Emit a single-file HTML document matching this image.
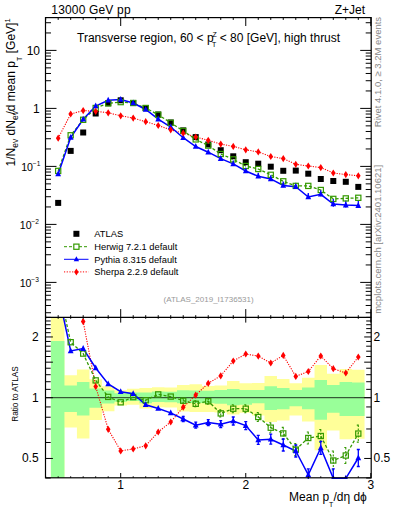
<!DOCTYPE html><html><head><meta charset="utf-8"><style>html,body{margin:0;padding:0;background:#fff;width:393px;height:512px;overflow:hidden}svg{display:block}text{font-family:"Liberation Sans",sans-serif}</style></head><body>
<svg width="393" height="512" viewBox="0 0 393 512">
<defs><clipPath id="cu"><rect x="45.50" y="17.60" width="325.70" height="299.80"/></clipPath><clipPath id="cl"><rect x="45.50" y="317.40" width="325.70" height="160.40"/></clipPath><clipPath id="cb"><rect x="45.50" y="317.40" width="325.70" height="161.70"/></clipPath></defs>
<g clip-path="url(#cl)">
<path d="M50.90 300.00L64.43 300.00L64.43 375.30L76.93 375.30L76.93 369.50L89.44 369.50L89.44 379.30L101.94 379.30L101.94 386.30L114.45 386.30L114.45 390.30L126.95 390.30L126.95 388.70L139.46 388.70L139.46 388.00L151.96 388.00L151.96 387.20L164.47 387.20L164.47 387.50L176.97 387.50L176.97 384.90L189.48 384.90L189.48 384.30L201.98 384.30L201.98 386.00L214.49 386.00L214.49 385.40L226.99 385.40L226.99 380.90L239.50 380.90L239.50 383.30L252.00 383.30L252.00 383.00L264.51 383.00L264.51 376.00L277.01 376.00L277.01 378.90L289.52 378.90L289.52 383.30L302.02 383.30L302.02 377.80L314.53 377.80L314.53 365.00L327.03 365.00L327.03 373.80L339.54 373.80L339.54 369.00L352.04 369.00L352.04 369.70L364.55 369.70L364.55 438.70L352.04 438.70L352.04 439.30L339.54 439.30L339.54 430.60L327.03 430.60L327.03 450.30L314.53 450.30L314.53 421.50L302.02 421.50L302.02 415.40L289.52 415.40L289.52 420.50L277.01 420.50L277.01 422.00L264.51 422.00L264.51 415.40L252.00 415.40L252.00 412.80L239.50 412.80L239.50 414.40L226.99 414.40L226.99 412.40L214.49 412.40L214.49 412.00L201.98 412.00L201.98 412.00L189.48 412.00L189.48 411.60L176.97 411.60L176.97 407.40L164.47 407.40L164.47 407.20L151.96 407.20L151.96 408.60L139.46 408.60L139.46 404.80L126.95 404.80L126.95 405.50L114.45 405.50L114.45 411.30L101.94 411.30L101.94 420.00L89.44 420.00L89.44 438.60L76.93 438.60L76.93 427.50L64.43 427.50L64.43 490.00L50.90 490.00Z" fill="#ffff99"/>
<path d="M50.90 341.00L64.43 341.00L64.43 385.40L76.93 385.40L76.93 382.00L89.44 382.00L89.44 388.50L101.94 388.50L101.94 390.50L114.45 390.50L114.45 393.30L126.95 393.30L126.95 392.60L139.46 392.60L139.46 392.60L151.96 392.60L151.96 391.60L164.47 391.60L164.47 391.80L176.97 391.80L176.97 390.30L189.48 390.30L189.48 390.50L201.98 390.50L201.98 390.70L214.49 390.70L214.49 390.00L226.99 390.00L226.99 389.00L239.50 389.00L239.50 390.00L252.00 390.00L252.00 390.00L264.51 390.00L264.51 386.30L277.01 386.30L277.01 388.00L289.52 388.00L289.52 390.00L302.02 390.00L302.02 387.50L314.53 387.50L314.53 379.90L327.03 379.90L327.03 385.00L339.54 385.00L339.54 382.00L352.04 382.00L352.04 382.50L364.55 382.50L364.55 416.00L352.04 416.00L352.04 416.00L339.54 416.00L339.54 412.70L327.03 412.70L327.03 419.70L314.53 419.70L314.53 409.30L302.02 409.30L302.02 406.30L289.52 406.30L289.52 409.30L277.01 409.30L277.01 410.00L264.51 410.00L264.51 403.20L252.00 403.20L252.00 404.70L239.50 404.70L239.50 405.30L226.99 405.30L226.99 403.80L214.49 403.80L214.49 403.20L201.98 403.20L201.98 403.00L189.48 403.00L189.48 403.20L176.97 403.20L176.97 402.20L164.47 402.20L164.47 401.90L151.96 401.90L151.96 403.20L139.46 403.20L139.46 401.00L126.95 401.00L126.95 401.70L114.45 401.70L114.45 403.50L101.94 403.50L101.94 407.80L89.44 407.80L89.44 415.50L76.93 415.50L76.93 411.90L64.43 411.90L64.43 490.00L50.90 490.00Z" fill="#99ff99"/>
</g>
<line x1="45.50" y1="397.7" x2="371.20" y2="397.7" stroke="#000" stroke-opacity="0.8" stroke-width="1"/>
<g clip-path="url(#cu)">
<polyline points="58.18,138.20 70.68,114.00 83.19,110.60 95.69,111.30 108.20,112.80 120.70,115.80 133.21,118.10 145.71,121.70 158.22,125.50 170.72,129.80 183.22,133.20 195.73,137.00 208.24,140.30 220.74,144.10 233.25,146.40 245.75,149.80 258.25,151.90 270.76,156.50 283.26,158.60 295.77,164.30 308.27,166.00 320.78,167.60 333.29,173.00 345.79,174.60 358.30,175.80" fill="none" stroke="#ff0000" stroke-width="1.1" stroke-dasharray="1.2,1.3"/>
<polyline points="58.18,170.90 70.68,135.30 83.19,119.80 95.69,108.00 108.20,103.30 120.70,102.10 133.21,103.00 145.71,108.00 158.22,114.80 170.72,122.80 183.22,130.90 195.73,139.40 208.24,145.60 220.74,154.00 233.25,159.40 245.75,166.00 258.25,169.00 270.76,174.80 283.26,181.30 295.77,185.90 308.27,185.90 320.78,190.00 333.29,198.90 345.79,198.40 358.30,197.80" fill="none" stroke="#339900" stroke-width="1.3" stroke-dasharray="3,2"/>
<polyline points="58.18,174.00 70.68,137.50 83.19,119.30 95.69,106.00 108.20,100.30 120.70,99.50 133.21,103.00 145.71,109.50 158.22,119.10 170.72,127.00 183.22,137.70 195.73,146.50 208.24,152.20 220.74,158.60 233.25,163.90 245.75,171.00 258.25,176.30 270.76,178.90 283.26,185.50 295.77,186.70 308.27,197.00 320.78,194.30 333.29,204.00 345.79,205.10 358.30,205.60" fill="none" stroke="#0000ff" stroke-width="1.5"/>
<path d="" stroke="#339900" stroke-width="1.1" fill="none"/>
<path d="M233.25 160.54V165.06M245.75 167.64V172.16M258.25 172.80V177.61M270.76 175.25V180.35M283.26 181.56V187.24M295.77 182.76V188.44M308.27 193.06V198.74M320.78 190.22V196.19M333.29 199.05V206.75M345.79 200.58V207.42M358.30 200.94V208.06" stroke="#0000ff" stroke-width="1.3" fill="none"/>
<rect x="55.18" y="199.90" width="6" height="6" fill="#000"/><rect x="67.68" y="147.90" width="6" height="6" fill="#000"/><rect x="80.19" y="129.50" width="6" height="6" fill="#000"/><rect x="92.69" y="110.50" width="6" height="6" fill="#000"/><rect x="105.20" y="100.30" width="6" height="6" fill="#000"/><rect x="117.70" y="97.30" width="6" height="6" fill="#000"/><rect x="130.21" y="100.00" width="6" height="6" fill="#000"/><rect x="142.71" y="105.00" width="6" height="6" fill="#000"/><rect x="155.22" y="111.50" width="6" height="6" fill="#000"/><rect x="167.72" y="119.50" width="6" height="6" fill="#000"/><rect x="180.22" y="127.40" width="6" height="6" fill="#000"/><rect x="192.73" y="134.10" width="6" height="6" fill="#000"/><rect x="205.24" y="141.50" width="6" height="6" fill="#000"/><rect x="217.74" y="147.20" width="6" height="6" fill="#000"/><rect x="230.25" y="153.30" width="6" height="6" fill="#000"/><rect x="242.75" y="159.20" width="6" height="6" fill="#000"/><rect x="255.25" y="160.70" width="6" height="6" fill="#000"/><rect x="267.76" y="163.70" width="6" height="6" fill="#000"/><rect x="280.26" y="167.80" width="6" height="6" fill="#000"/><rect x="292.77" y="167.60" width="6" height="6" fill="#000"/><rect x="305.27" y="170.70" width="6" height="6" fill="#000"/><rect x="317.78" y="176.00" width="6" height="6" fill="#000"/><rect x="330.29" y="178.00" width="6" height="6" fill="#000"/><rect x="342.79" y="178.80" width="6" height="6" fill="#000"/><rect x="355.30" y="183.90" width="6" height="6" fill="#000"/>
<rect x="55.58" y="168.30" width="5.2" height="5.2" fill="none" stroke="#339900" stroke-width="1.2"/><rect x="68.08" y="132.70" width="5.2" height="5.2" fill="none" stroke="#339900" stroke-width="1.2"/><rect x="80.59" y="117.20" width="5.2" height="5.2" fill="none" stroke="#339900" stroke-width="1.2"/><rect x="93.09" y="105.40" width="5.2" height="5.2" fill="none" stroke="#339900" stroke-width="1.2"/><rect x="105.60" y="100.70" width="5.2" height="5.2" fill="none" stroke="#339900" stroke-width="1.2"/><rect x="118.10" y="99.50" width="5.2" height="5.2" fill="none" stroke="#339900" stroke-width="1.2"/><rect x="130.61" y="100.40" width="5.2" height="5.2" fill="none" stroke="#339900" stroke-width="1.2"/><rect x="143.11" y="105.40" width="5.2" height="5.2" fill="none" stroke="#339900" stroke-width="1.2"/><rect x="155.62" y="112.20" width="5.2" height="5.2" fill="none" stroke="#339900" stroke-width="1.2"/><rect x="168.12" y="120.20" width="5.2" height="5.2" fill="none" stroke="#339900" stroke-width="1.2"/><rect x="180.62" y="128.30" width="5.2" height="5.2" fill="none" stroke="#339900" stroke-width="1.2"/><rect x="193.13" y="136.80" width="5.2" height="5.2" fill="none" stroke="#339900" stroke-width="1.2"/><rect x="205.64" y="143.00" width="5.2" height="5.2" fill="none" stroke="#339900" stroke-width="1.2"/><rect x="218.14" y="151.40" width="5.2" height="5.2" fill="none" stroke="#339900" stroke-width="1.2"/><rect x="230.65" y="156.80" width="5.2" height="5.2" fill="none" stroke="#339900" stroke-width="1.2"/><rect x="243.15" y="163.40" width="5.2" height="5.2" fill="none" stroke="#339900" stroke-width="1.2"/><rect x="255.66" y="166.40" width="5.2" height="5.2" fill="none" stroke="#339900" stroke-width="1.2"/><rect x="268.16" y="172.20" width="5.2" height="5.2" fill="none" stroke="#339900" stroke-width="1.2"/><rect x="280.66" y="178.70" width="5.2" height="5.2" fill="none" stroke="#339900" stroke-width="1.2"/><rect x="293.17" y="183.30" width="5.2" height="5.2" fill="none" stroke="#339900" stroke-width="1.2"/><rect x="305.67" y="183.30" width="5.2" height="5.2" fill="none" stroke="#339900" stroke-width="1.2"/><rect x="318.18" y="187.40" width="5.2" height="5.2" fill="none" stroke="#339900" stroke-width="1.2"/><rect x="330.69" y="196.30" width="5.2" height="5.2" fill="none" stroke="#339900" stroke-width="1.2"/><rect x="343.19" y="195.80" width="5.2" height="5.2" fill="none" stroke="#339900" stroke-width="1.2"/><rect x="355.69" y="195.20" width="5.2" height="5.2" fill="none" stroke="#339900" stroke-width="1.2"/>
<path d="M58.18 170.50L61.08 176.30L55.28 176.30Z" fill="#0000ff"/><path d="M70.68 134.00L73.58 139.80L67.78 139.80Z" fill="#0000ff"/><path d="M83.19 115.80L86.09 121.60L80.28 121.60Z" fill="#0000ff"/><path d="M95.69 102.50L98.59 108.30L92.79 108.30Z" fill="#0000ff"/><path d="M108.20 96.80L111.10 102.60L105.30 102.60Z" fill="#0000ff"/><path d="M120.70 96.00L123.60 101.80L117.80 101.80Z" fill="#0000ff"/><path d="M133.21 99.50L136.11 105.30L130.31 105.30Z" fill="#0000ff"/><path d="M145.71 106.00L148.61 111.80L142.81 111.80Z" fill="#0000ff"/><path d="M158.22 115.60L161.12 121.40L155.31 121.40Z" fill="#0000ff"/><path d="M170.72 123.50L173.62 129.30L167.82 129.30Z" fill="#0000ff"/><path d="M183.22 134.20L186.12 140.00L180.32 140.00Z" fill="#0000ff"/><path d="M195.73 143.00L198.63 148.80L192.83 148.80Z" fill="#0000ff"/><path d="M208.24 148.70L211.14 154.50L205.34 154.50Z" fill="#0000ff"/><path d="M220.74 155.10L223.64 160.90L217.84 160.90Z" fill="#0000ff"/><path d="M233.25 160.40L236.15 166.20L230.34 166.20Z" fill="#0000ff"/><path d="M245.75 167.50L248.65 173.30L242.85 173.30Z" fill="#0000ff"/><path d="M258.25 172.80L261.15 178.60L255.35 178.60Z" fill="#0000ff"/><path d="M270.76 175.40L273.66 181.20L267.86 181.20Z" fill="#0000ff"/><path d="M283.26 182.00L286.16 187.80L280.37 187.80Z" fill="#0000ff"/><path d="M295.77 183.20L298.67 189.00L292.87 189.00Z" fill="#0000ff"/><path d="M308.27 193.50L311.17 199.30L305.38 199.30Z" fill="#0000ff"/><path d="M320.78 190.80L323.68 196.60L317.88 196.60Z" fill="#0000ff"/><path d="M333.29 200.50L336.19 206.30L330.39 206.30Z" fill="#0000ff"/><path d="M345.79 201.60L348.69 207.40L342.89 207.40Z" fill="#0000ff"/><path d="M358.30 202.10L361.19 207.90L355.40 207.90Z" fill="#0000ff"/>
<path d="M58.18 134.60L60.48 138.20L58.18 141.80L55.88 138.20Z" fill="#ff0000"/><path d="M70.68 110.40L72.98 114.00L70.68 117.60L68.38 114.00Z" fill="#ff0000"/><path d="M83.19 107.00L85.48 110.60L83.19 114.20L80.89 110.60Z" fill="#ff0000"/><path d="M95.69 107.70L97.99 111.30L95.69 114.90L93.39 111.30Z" fill="#ff0000"/><path d="M108.20 109.20L110.50 112.80L108.20 116.40L105.90 112.80Z" fill="#ff0000"/><path d="M120.70 112.20L123.00 115.80L120.70 119.40L118.40 115.80Z" fill="#ff0000"/><path d="M133.21 114.50L135.51 118.10L133.21 121.70L130.91 118.10Z" fill="#ff0000"/><path d="M145.71 118.10L148.01 121.70L145.71 125.30L143.41 121.70Z" fill="#ff0000"/><path d="M158.22 121.90L160.52 125.50L158.22 129.10L155.91 125.50Z" fill="#ff0000"/><path d="M170.72 126.20L173.02 129.80L170.72 133.40L168.42 129.80Z" fill="#ff0000"/><path d="M183.22 129.60L185.53 133.20L183.22 136.80L180.92 133.20Z" fill="#ff0000"/><path d="M195.73 133.40L198.03 137.00L195.73 140.60L193.43 137.00Z" fill="#ff0000"/><path d="M208.24 136.70L210.54 140.30L208.24 143.90L205.94 140.30Z" fill="#ff0000"/><path d="M220.74 140.50L223.04 144.10L220.74 147.70L218.44 144.10Z" fill="#ff0000"/><path d="M233.25 142.80L235.55 146.40L233.25 150.00L230.94 146.40Z" fill="#ff0000"/><path d="M245.75 146.20L248.05 149.80L245.75 153.40L243.45 149.80Z" fill="#ff0000"/><path d="M258.25 148.30L260.56 151.90L258.25 155.50L255.95 151.90Z" fill="#ff0000"/><path d="M270.76 152.90L273.06 156.50L270.76 160.10L268.46 156.50Z" fill="#ff0000"/><path d="M283.26 155.00L285.56 158.60L283.26 162.20L280.96 158.60Z" fill="#ff0000"/><path d="M295.77 160.70L298.07 164.30L295.77 167.90L293.47 164.30Z" fill="#ff0000"/><path d="M308.27 162.40L310.57 166.00L308.27 169.60L305.97 166.00Z" fill="#ff0000"/><path d="M320.78 164.00L323.08 167.60L320.78 171.20L318.48 167.60Z" fill="#ff0000"/><path d="M333.29 169.40L335.59 173.00L333.29 176.60L330.99 173.00Z" fill="#ff0000"/><path d="M345.79 171.00L348.09 174.60L345.79 178.20L343.49 174.60Z" fill="#ff0000"/><path d="M358.30 172.20L360.60 175.80L358.30 179.40L356.00 175.80Z" fill="#ff0000"/>
</g>
<g clip-path="url(#cb)">
<polyline points="58.18,240.00 70.68,280.00 83.19,321.60 95.69,386.50 108.20,429.30 120.70,450.90 133.21,448.90 145.71,445.80 158.22,432.00 170.72,422.00 183.22,407.20 195.73,395.10 208.24,383.30 220.74,375.80 233.25,361.00 245.75,354.00 258.25,356.10 270.76,363.00 283.26,355.40 295.77,376.40 308.27,371.50 320.78,356.00 333.29,368.70 345.79,373.00 358.30,357.00" fill="none" stroke="#ff0000" stroke-width="1.1" stroke-dasharray="1.2,1.3"/>
<polyline points="58.18,285.00 70.68,342.20 83.19,353.60 95.69,380.40 108.20,396.90 120.70,402.30 133.21,397.10 145.71,400.20 158.22,394.40 170.72,396.60 183.22,400.70 195.73,403.80 208.24,401.20 220.74,413.40 233.25,408.70 245.75,408.70 258.25,417.00 270.76,427.70 283.26,433.40 295.77,449.60 308.27,438.00 320.78,436.00 333.29,460.50 345.79,455.50 358.30,433.60" fill="none" stroke="#339900" stroke-width="1.3" stroke-dasharray="3,2"/>
<polyline points="58.18,293.00 70.68,350.90 83.19,348.60 95.69,368.00 108.20,384.00 120.70,391.70 133.21,393.80 145.71,404.80 158.22,408.50 170.72,412.90 183.22,419.00 195.73,425.20 208.24,422.60 220.74,424.20 233.25,421.00 245.75,425.60 258.25,439.90 270.76,439.20 283.26,445.00 295.77,451.00 308.27,474.90 320.78,447.90 333.29,478.30 345.79,478.30 358.30,458.00" fill="none" stroke="#0000ff" stroke-width="1.5"/>
<path d="M183.22 398.20V403.20M181.72 398.20h3M181.72 403.20h3M195.73 400.80V406.80M194.23 400.80h3M194.23 406.80h3M208.24 398.20V404.20M206.74 398.20h3M206.74 404.20h3M220.74 409.90V416.90M219.24 409.90h3M219.24 416.90h3M233.25 404.70V412.70M231.75 404.70h3M231.75 412.70h3M245.75 404.70V412.70M244.25 404.70h3M244.25 412.70h3M258.25 412.50V421.50M256.75 412.50h3M256.75 421.50h3M270.76 422.70V432.70M269.26 422.70h3M269.26 432.70h3M283.26 427.40V439.40M281.76 427.40h3M281.76 439.40h3M295.77 443.60V455.60M294.27 443.60h3M294.27 455.60h3M308.27 432.00V444.00M306.77 432.00h3M306.77 444.00h3M320.78 429.50V442.50M319.28 429.50h3M319.28 442.50h3M333.29 451.00V470.00M331.79 451.00h3M331.79 470.00h3M345.79 447.50V463.50M344.29 447.50h3M344.29 463.50h3M358.30 425.10V442.10M356.80 425.10h3M356.80 442.10h3" stroke="#339900" stroke-width="1.1" fill="none" stroke-dasharray="2,1.5"/>
<path d="M183.22 416.50V421.50M181.72 416.50h3M181.72 421.50h3M195.73 422.20V428.20M194.23 422.20h3M194.23 428.20h3M208.24 419.60V425.60M206.74 419.60h3M206.74 425.60h3M220.74 420.70V427.70M219.24 420.70h3M219.24 427.70h3M233.25 417.00V425.00M231.75 417.00h3M231.75 425.00h3M245.75 421.60V429.60M244.25 421.60h3M244.25 429.60h3M258.25 435.40V444.40M256.75 435.40h3M256.75 444.40h3M270.76 434.20V444.20M269.26 434.20h3M269.26 444.20h3M283.26 439.00V451.00M281.76 439.00h3M281.76 451.00h3M295.77 445.00V457.00M294.27 445.00h3M294.27 457.00h3M308.27 468.90V480.90M306.77 468.90h3M306.77 480.90h3M320.78 441.40V454.40M319.28 441.40h3M319.28 454.40h3M333.29 468.80V487.80M331.79 468.80h3M331.79 487.80h3M358.30 449.50V466.50M356.80 449.50h3M356.80 466.50h3" stroke="#0000ff" stroke-width="1.3" fill="none"/>
<rect x="55.58" y="282.40" width="5.2" height="5.2" fill="none" stroke="#339900" stroke-width="1.2"/><rect x="68.08" y="339.60" width="5.2" height="5.2" fill="none" stroke="#339900" stroke-width="1.2"/><rect x="80.59" y="351.00" width="5.2" height="5.2" fill="none" stroke="#339900" stroke-width="1.2"/><rect x="93.09" y="377.80" width="5.2" height="5.2" fill="none" stroke="#339900" stroke-width="1.2"/><rect x="105.60" y="394.30" width="5.2" height="5.2" fill="none" stroke="#339900" stroke-width="1.2"/><rect x="118.10" y="399.70" width="5.2" height="5.2" fill="none" stroke="#339900" stroke-width="1.2"/><rect x="130.61" y="394.50" width="5.2" height="5.2" fill="none" stroke="#339900" stroke-width="1.2"/><rect x="143.11" y="397.60" width="5.2" height="5.2" fill="none" stroke="#339900" stroke-width="1.2"/><rect x="155.62" y="391.80" width="5.2" height="5.2" fill="none" stroke="#339900" stroke-width="1.2"/><rect x="168.12" y="394.00" width="5.2" height="5.2" fill="none" stroke="#339900" stroke-width="1.2"/><rect x="180.62" y="398.10" width="5.2" height="5.2" fill="none" stroke="#339900" stroke-width="1.2"/><rect x="193.13" y="401.20" width="5.2" height="5.2" fill="none" stroke="#339900" stroke-width="1.2"/><rect x="205.64" y="398.60" width="5.2" height="5.2" fill="none" stroke="#339900" stroke-width="1.2"/><rect x="218.14" y="410.80" width="5.2" height="5.2" fill="none" stroke="#339900" stroke-width="1.2"/><rect x="230.65" y="406.10" width="5.2" height="5.2" fill="none" stroke="#339900" stroke-width="1.2"/><rect x="243.15" y="406.10" width="5.2" height="5.2" fill="none" stroke="#339900" stroke-width="1.2"/><rect x="255.66" y="414.40" width="5.2" height="5.2" fill="none" stroke="#339900" stroke-width="1.2"/><rect x="268.16" y="425.10" width="5.2" height="5.2" fill="none" stroke="#339900" stroke-width="1.2"/><rect x="280.66" y="430.80" width="5.2" height="5.2" fill="none" stroke="#339900" stroke-width="1.2"/><rect x="293.17" y="447.00" width="5.2" height="5.2" fill="none" stroke="#339900" stroke-width="1.2"/><rect x="305.67" y="435.40" width="5.2" height="5.2" fill="none" stroke="#339900" stroke-width="1.2"/><rect x="318.18" y="433.40" width="5.2" height="5.2" fill="none" stroke="#339900" stroke-width="1.2"/><rect x="330.69" y="457.90" width="5.2" height="5.2" fill="none" stroke="#339900" stroke-width="1.2"/><rect x="343.19" y="452.90" width="5.2" height="5.2" fill="none" stroke="#339900" stroke-width="1.2"/><rect x="355.69" y="431.00" width="5.2" height="5.2" fill="none" stroke="#339900" stroke-width="1.2"/>
<path d="M58.18 289.50L61.08 295.30L55.28 295.30Z" fill="#0000ff"/><path d="M70.68 347.40L73.58 353.20L67.78 353.20Z" fill="#0000ff"/><path d="M83.19 345.10L86.09 350.90L80.28 350.90Z" fill="#0000ff"/><path d="M95.69 364.50L98.59 370.30L92.79 370.30Z" fill="#0000ff"/><path d="M108.20 380.50L111.10 386.30L105.30 386.30Z" fill="#0000ff"/><path d="M120.70 388.20L123.60 394.00L117.80 394.00Z" fill="#0000ff"/><path d="M133.21 390.30L136.11 396.10L130.31 396.10Z" fill="#0000ff"/><path d="M145.71 401.30L148.61 407.10L142.81 407.10Z" fill="#0000ff"/><path d="M158.22 405.00L161.12 410.80L155.31 410.80Z" fill="#0000ff"/><path d="M170.72 409.40L173.62 415.20L167.82 415.20Z" fill="#0000ff"/><path d="M183.22 415.50L186.12 421.30L180.32 421.30Z" fill="#0000ff"/><path d="M195.73 421.70L198.63 427.50L192.83 427.50Z" fill="#0000ff"/><path d="M208.24 419.10L211.14 424.90L205.34 424.90Z" fill="#0000ff"/><path d="M220.74 420.70L223.64 426.50L217.84 426.50Z" fill="#0000ff"/><path d="M233.25 417.50L236.15 423.30L230.34 423.30Z" fill="#0000ff"/><path d="M245.75 422.10L248.65 427.90L242.85 427.90Z" fill="#0000ff"/><path d="M258.25 436.40L261.15 442.20L255.35 442.20Z" fill="#0000ff"/><path d="M270.76 435.70L273.66 441.50L267.86 441.50Z" fill="#0000ff"/><path d="M283.26 441.50L286.16 447.30L280.37 447.30Z" fill="#0000ff"/><path d="M295.77 447.50L298.67 453.30L292.87 453.30Z" fill="#0000ff"/><path d="M308.27 471.40L311.17 477.20L305.38 477.20Z" fill="#0000ff"/><path d="M320.78 444.40L323.68 450.20L317.88 450.20Z" fill="#0000ff"/><path d="M333.29 474.80L336.19 480.60L330.39 480.60Z" fill="#0000ff"/><path d="M345.79 474.80L348.69 480.60L342.89 480.60Z" fill="#0000ff"/><path d="M358.30 454.50L361.19 460.30L355.40 460.30Z" fill="#0000ff"/>
<path d="M58.18 236.40L60.48 240.00L58.18 243.60L55.88 240.00Z" fill="#ff0000"/><path d="M70.68 276.40L72.98 280.00L70.68 283.60L68.38 280.00Z" fill="#ff0000"/><path d="M83.19 318.00L85.48 321.60L83.19 325.20L80.89 321.60Z" fill="#ff0000"/><path d="M95.69 382.90L97.99 386.50L95.69 390.10L93.39 386.50Z" fill="#ff0000"/><path d="M108.20 425.70L110.50 429.30L108.20 432.90L105.90 429.30Z" fill="#ff0000"/><path d="M120.70 447.30L123.00 450.90L120.70 454.50L118.40 450.90Z" fill="#ff0000"/><path d="M133.21 445.30L135.51 448.90L133.21 452.50L130.91 448.90Z" fill="#ff0000"/><path d="M145.71 442.20L148.01 445.80L145.71 449.40L143.41 445.80Z" fill="#ff0000"/><path d="M158.22 428.40L160.52 432.00L158.22 435.60L155.91 432.00Z" fill="#ff0000"/><path d="M170.72 418.40L173.02 422.00L170.72 425.60L168.42 422.00Z" fill="#ff0000"/><path d="M183.22 403.60L185.53 407.20L183.22 410.80L180.92 407.20Z" fill="#ff0000"/><path d="M195.73 391.50L198.03 395.10L195.73 398.70L193.43 395.10Z" fill="#ff0000"/><path d="M208.24 379.70L210.54 383.30L208.24 386.90L205.94 383.30Z" fill="#ff0000"/><path d="M220.74 372.20L223.04 375.80L220.74 379.40L218.44 375.80Z" fill="#ff0000"/><path d="M233.25 357.40L235.55 361.00L233.25 364.60L230.94 361.00Z" fill="#ff0000"/><path d="M245.75 350.40L248.05 354.00L245.75 357.60L243.45 354.00Z" fill="#ff0000"/><path d="M258.25 352.50L260.56 356.10L258.25 359.70L255.95 356.10Z" fill="#ff0000"/><path d="M270.76 359.40L273.06 363.00L270.76 366.60L268.46 363.00Z" fill="#ff0000"/><path d="M283.26 351.80L285.56 355.40L283.26 359.00L280.96 355.40Z" fill="#ff0000"/><path d="M295.77 372.80L298.07 376.40L295.77 380.00L293.47 376.40Z" fill="#ff0000"/><path d="M308.27 367.90L310.57 371.50L308.27 375.10L305.97 371.50Z" fill="#ff0000"/><path d="M320.78 352.40L323.08 356.00L320.78 359.60L318.48 356.00Z" fill="#ff0000"/><path d="M333.29 365.10L335.59 368.70L333.29 372.30L330.99 368.70Z" fill="#ff0000"/><path d="M345.79 369.40L348.09 373.00L345.79 376.60L343.49 373.00Z" fill="#ff0000"/><path d="M358.30 353.40L360.60 357.00L358.30 360.60L356.00 357.00Z" fill="#ff0000"/>
</g>
<rect x="45.50" y="17.60" width="325.70" height="460.20" fill="none" stroke="#000" stroke-width="1.2"/><line x1="45.50" y1="317.40" x2="371.20" y2="317.40" stroke="#000" stroke-width="1.2"/><path d="M45.67 17.60v2.30 M45.67 317.40v-2.20 M45.67 317.40v1.40 M45.67 477.80v-1.50 M58.18 17.60v2.30 M58.18 317.40v-2.20 M58.18 317.40v1.40 M58.18 477.80v-1.50 M70.68 17.60v2.30 M70.68 317.40v-2.20 M70.68 317.40v1.40 M70.68 477.80v-1.50 M83.19 17.60v2.30 M83.19 317.40v-2.20 M83.19 317.40v1.40 M83.19 477.80v-1.50 M95.69 17.60v2.30 M95.69 317.40v-2.20 M95.69 317.40v1.40 M95.69 477.80v-1.50 M108.20 17.60v2.30 M108.20 317.40v-2.20 M108.20 317.40v1.40 M108.20 477.80v-1.50 M120.70 17.60v8.40 M120.70 317.40v-8.30 M120.70 317.40v5.20 M120.70 477.80v-4.80 M133.21 17.60v2.30 M133.21 317.40v-2.20 M133.21 317.40v1.40 M133.21 477.80v-1.50 M145.71 17.60v2.30 M145.71 317.40v-2.20 M145.71 317.40v1.40 M145.71 477.80v-1.50 M158.22 17.60v2.30 M158.22 317.40v-2.20 M158.22 317.40v1.40 M158.22 477.80v-1.50 M170.72 17.60v2.30 M170.72 317.40v-2.20 M170.72 317.40v1.40 M170.72 477.80v-1.50 M183.22 17.60v2.30 M183.22 317.40v-2.20 M183.22 317.40v1.40 M183.22 477.80v-1.50 M195.73 17.60v2.30 M195.73 317.40v-2.20 M195.73 317.40v1.40 M195.73 477.80v-1.50 M208.24 17.60v2.30 M208.24 317.40v-2.20 M208.24 317.40v1.40 M208.24 477.80v-1.50 M220.74 17.60v2.30 M220.74 317.40v-2.20 M220.74 317.40v1.40 M220.74 477.80v-1.50 M233.25 17.60v2.30 M233.25 317.40v-2.20 M233.25 317.40v1.40 M233.25 477.80v-1.50 M245.75 17.60v8.40 M245.75 317.40v-8.30 M245.75 317.40v5.20 M245.75 477.80v-4.80 M258.25 17.60v2.30 M258.25 317.40v-2.20 M258.25 317.40v1.40 M258.25 477.80v-1.50 M270.76 17.60v2.30 M270.76 317.40v-2.20 M270.76 317.40v1.40 M270.76 477.80v-1.50 M283.26 17.60v2.30 M283.26 317.40v-2.20 M283.26 317.40v1.40 M283.26 477.80v-1.50 M295.77 17.60v2.30 M295.77 317.40v-2.20 M295.77 317.40v1.40 M295.77 477.80v-1.50 M308.27 17.60v2.30 M308.27 317.40v-2.20 M308.27 317.40v1.40 M308.27 477.80v-1.50 M320.78 17.60v2.30 M320.78 317.40v-2.20 M320.78 317.40v1.40 M320.78 477.80v-1.50 M333.29 17.60v2.30 M333.29 317.40v-2.20 M333.29 317.40v1.40 M333.29 477.80v-1.50 M345.79 17.60v2.30 M345.79 317.40v-2.20 M345.79 317.40v1.40 M345.79 477.80v-1.50 M358.29 17.60v2.30 M358.29 317.40v-2.20 M358.29 317.40v1.40 M358.29 477.80v-1.50 M370.80 17.60v8.40 M370.80 317.40v-8.30 M370.80 317.40v5.20 M370.80 477.80v-4.80 M45.50 312.73h5.50 M371.20 312.73h-5.50 M45.50 305.48h5.50 M371.20 305.48h-5.50 M45.50 299.86h5.50 M371.20 299.86h-5.50 M45.50 295.27h5.50 M371.20 295.27h-5.50 M45.50 291.38h5.50 M371.20 291.38h-5.50 M45.50 288.02h5.50 M371.20 288.02h-5.50 M45.50 285.05h5.50 M371.20 285.05h-5.50 M45.50 282.40h11.00 M371.20 282.40h-11.00 M45.50 264.94h5.50 M371.20 264.94h-5.50 M45.50 254.73h5.50 M371.20 254.73h-5.50 M45.50 247.48h5.50 M371.20 247.48h-5.50 M45.50 241.86h5.50 M371.20 241.86h-5.50 M45.50 237.27h5.50 M371.20 237.27h-5.50 M45.50 233.38h5.50 M371.20 233.38h-5.50 M45.50 230.02h5.50 M371.20 230.02h-5.50 M45.50 227.05h5.50 M371.20 227.05h-5.50 M45.50 224.40h11.00 M371.20 224.40h-11.00 M45.50 206.94h5.50 M371.20 206.94h-5.50 M45.50 196.73h5.50 M371.20 196.73h-5.50 M45.50 189.48h5.50 M371.20 189.48h-5.50 M45.50 183.86h5.50 M371.20 183.86h-5.50 M45.50 179.27h5.50 M371.20 179.27h-5.50 M45.50 175.38h5.50 M371.20 175.38h-5.50 M45.50 172.02h5.50 M371.20 172.02h-5.50 M45.50 169.05h5.50 M371.20 169.05h-5.50 M45.50 166.40h11.00 M371.20 166.40h-11.00 M45.50 148.94h5.50 M371.20 148.94h-5.50 M45.50 138.73h5.50 M371.20 138.73h-5.50 M45.50 131.48h5.50 M371.20 131.48h-5.50 M45.50 125.86h5.50 M371.20 125.86h-5.50 M45.50 121.27h5.50 M371.20 121.27h-5.50 M45.50 117.38h5.50 M371.20 117.38h-5.50 M45.50 114.02h5.50 M371.20 114.02h-5.50 M45.50 111.05h5.50 M371.20 111.05h-5.50 M45.50 108.40h11.00 M371.20 108.40h-11.00 M45.50 90.94h5.50 M371.20 90.94h-5.50 M45.50 80.73h5.50 M371.20 80.73h-5.50 M45.50 73.48h5.50 M371.20 73.48h-5.50 M45.50 67.86h5.50 M371.20 67.86h-5.50 M45.50 63.27h5.50 M371.20 63.27h-5.50 M45.50 59.38h5.50 M371.20 59.38h-5.50 M45.50 56.02h5.50 M371.20 56.02h-5.50 M45.50 53.05h5.50 M371.20 53.05h-5.50 M45.50 50.40h11.00 M371.20 50.40h-11.00 M45.50 32.94h5.50 M371.20 32.94h-5.50 M45.50 22.73h5.50 M371.20 22.73h-5.50 M45.50 478.01h5.20 M371.20 478.01h-5.00 M45.50 458.46h7.40 M371.20 458.46h-7.00 M45.50 442.48h5.20 M371.20 442.48h-5.00 M45.50 428.97h5.20 M371.20 428.97h-5.00 M45.50 417.26h5.20 M371.20 417.26h-5.00 M45.50 406.94h5.20 M371.20 406.94h-5.00 M45.50 397.71h7.40 M371.20 397.71h-7.00 M45.50 389.35h5.20 M371.20 389.35h-5.00 M45.50 381.73h5.20 M371.20 381.73h-5.00 M45.50 374.71h5.20 M371.20 374.71h-5.00 M45.50 368.22h5.20 M371.20 368.22h-5.00 M45.50 362.17h7.40 M371.20 362.17h-7.00 M45.50 356.51h5.20 M371.20 356.51h-5.00 M45.50 351.20h5.20 M371.20 351.20h-5.00 M45.50 346.19h5.20 M371.20 346.19h-5.00 M45.50 341.45h5.20 M371.20 341.45h-5.00 M45.50 336.96h7.40 M371.20 336.96h-7.00 M45.50 332.68h5.20 M371.20 332.68h-5.00 M45.50 328.60h5.20 M371.20 328.60h-5.00 M45.50 324.71h5.20 M371.20 324.71h-5.00 M45.50 320.98h5.20 M371.20 320.98h-5.00 M45.50 317.40h5.20 M371.20 317.40h-5.00" stroke="#000" stroke-width="1" fill="none"/>
<text x="51.3" y="14" font-size="12" letter-spacing="0.17">13000 GeV pp</text>
<text x="365" y="14" font-size="12" text-anchor="end">Z+Jet</text>
<text x="77" y="42" font-size="12">Transverse region, 60 &lt; p<tspan font-size="7" dx="-1.2" dy="-5">Z</tspan><tspan font-size="7" dx="-4.6" dy="9.5">T</tspan><tspan dy="-4.5" dx="0"> &lt; 80 [GeV], high thrust</tspan></text>
<text x="39.6" y="112.6" font-size="12" text-anchor="end">1</text>
<text x="40" y="54.6" font-size="12" text-anchor="end">10</text>
<text x="40.4" y="170.9" font-size="10.6" text-anchor="end">10<tspan font-size="6.6" dy="-5.4" dx="-0.1">&#8722;1</tspan></text>
<text x="39.0" y="228.9" font-size="10.6" text-anchor="end">10<tspan font-size="6.6" dy="-5.4" dx="-0.1">&#8722;2</tspan></text>
<text x="38.9" y="286.9" font-size="10.6" text-anchor="end">10<tspan font-size="6.6" dy="-5.4" dx="-0.1">&#8722;3</tspan></text>
<text x="38.6" y="340.6" font-size="12" text-anchor="end">2</text>
<text x="38.6" y="401.6" font-size="12" text-anchor="end">1</text>
<text x="38.6" y="462.3" font-size="12" text-anchor="end">0.5</text>
<text x="373.6" y="340.6" font-size="12">2</text>
<text x="373.6" y="401.6" font-size="12">1</text>
<text x="373.6" y="462.2" font-size="12">0.5</text>
<text x="120.7" y="489" font-size="12" text-anchor="middle">1</text>
<text x="245.8" y="489" font-size="12" text-anchor="middle">2</text>
<text x="370.8" y="489" font-size="12" text-anchor="middle">3</text>
<text x="366.8" y="501.2" font-size="12" text-anchor="end">Mean p<tspan font-size="7" dy="5.5">T</tspan><tspan dy="-5.5">/dη dϕ</tspan></text>
<text transform="translate(15.1,166.4) rotate(-90)" font-size="12">1/N<tspan font-size="8.5" dy="3">ev</tspan><tspan dy="-3"> dN</tspan><tspan font-size="8.5" dy="3">ev</tspan><tspan dy="-3" dx="-3.5">/d mean p</tspan><tspan font-size="7" dy="6.5" dx="0.3">T</tspan><tspan dy="-6.5"> [GeV]</tspan><tspan font-size="7.5" dy="-5.5">1</tspan></text>
<text transform="translate(18.3,421.7) rotate(-90)" font-size="8.2">Ratio to ATLAS</text>
<text transform="translate(380.8,127.2) rotate(-90)" font-size="9.5" fill="#888">Rivet 4.1.0, ≥ 3.2M events</text>
<text transform="translate(381.2,313.8) rotate(-90)" font-size="9.5" fill="#888">mcplots.cern.ch [arXiv:2401.10621]</text>
<text x="163.5" y="302.3" font-size="8" fill="#999">(ATLAS_2019_I1736531)</text>
<rect x="73.4" y="230.80" width="6" height="6" fill="#000"/>
<line x1="64" y1="246.70" x2="88.5" y2="246.70" stroke="#339900" stroke-width="1" stroke-dasharray="3,2"/>
<rect x="73.8" y="244.10" width="5.2" height="5.2" fill="#fff" stroke="#339900" stroke-width="1.2"/>
<line x1="64" y1="259.30" x2="88.5" y2="259.30" stroke="#0000ff" stroke-width="1"/>
<path d="M76.4 256.30L79.1 261.30L73.7 261.30Z" fill="#0000ff"/>
<line x1="64" y1="271.90" x2="88.5" y2="271.90" stroke="#ff0000" stroke-width="1" stroke-dasharray="1.2,1.5"/>
<path d="M76.4 268.40L78.6 271.90L76.4 275.40L74.2 271.90Z" fill="#ff0000"/>
<text x="94.3" y="237.0" font-size="9.33">ATLAS</text>
<text x="94.3" y="249.9" font-size="9.33">Herwig 7.2.1 default</text>
<text x="94.3" y="262.5" font-size="9.33">Pythia 8.315 default</text>
<text x="94.3" y="275.2" font-size="9.33">Sherpa 2.2.9 default</text>
</svg></body></html>
